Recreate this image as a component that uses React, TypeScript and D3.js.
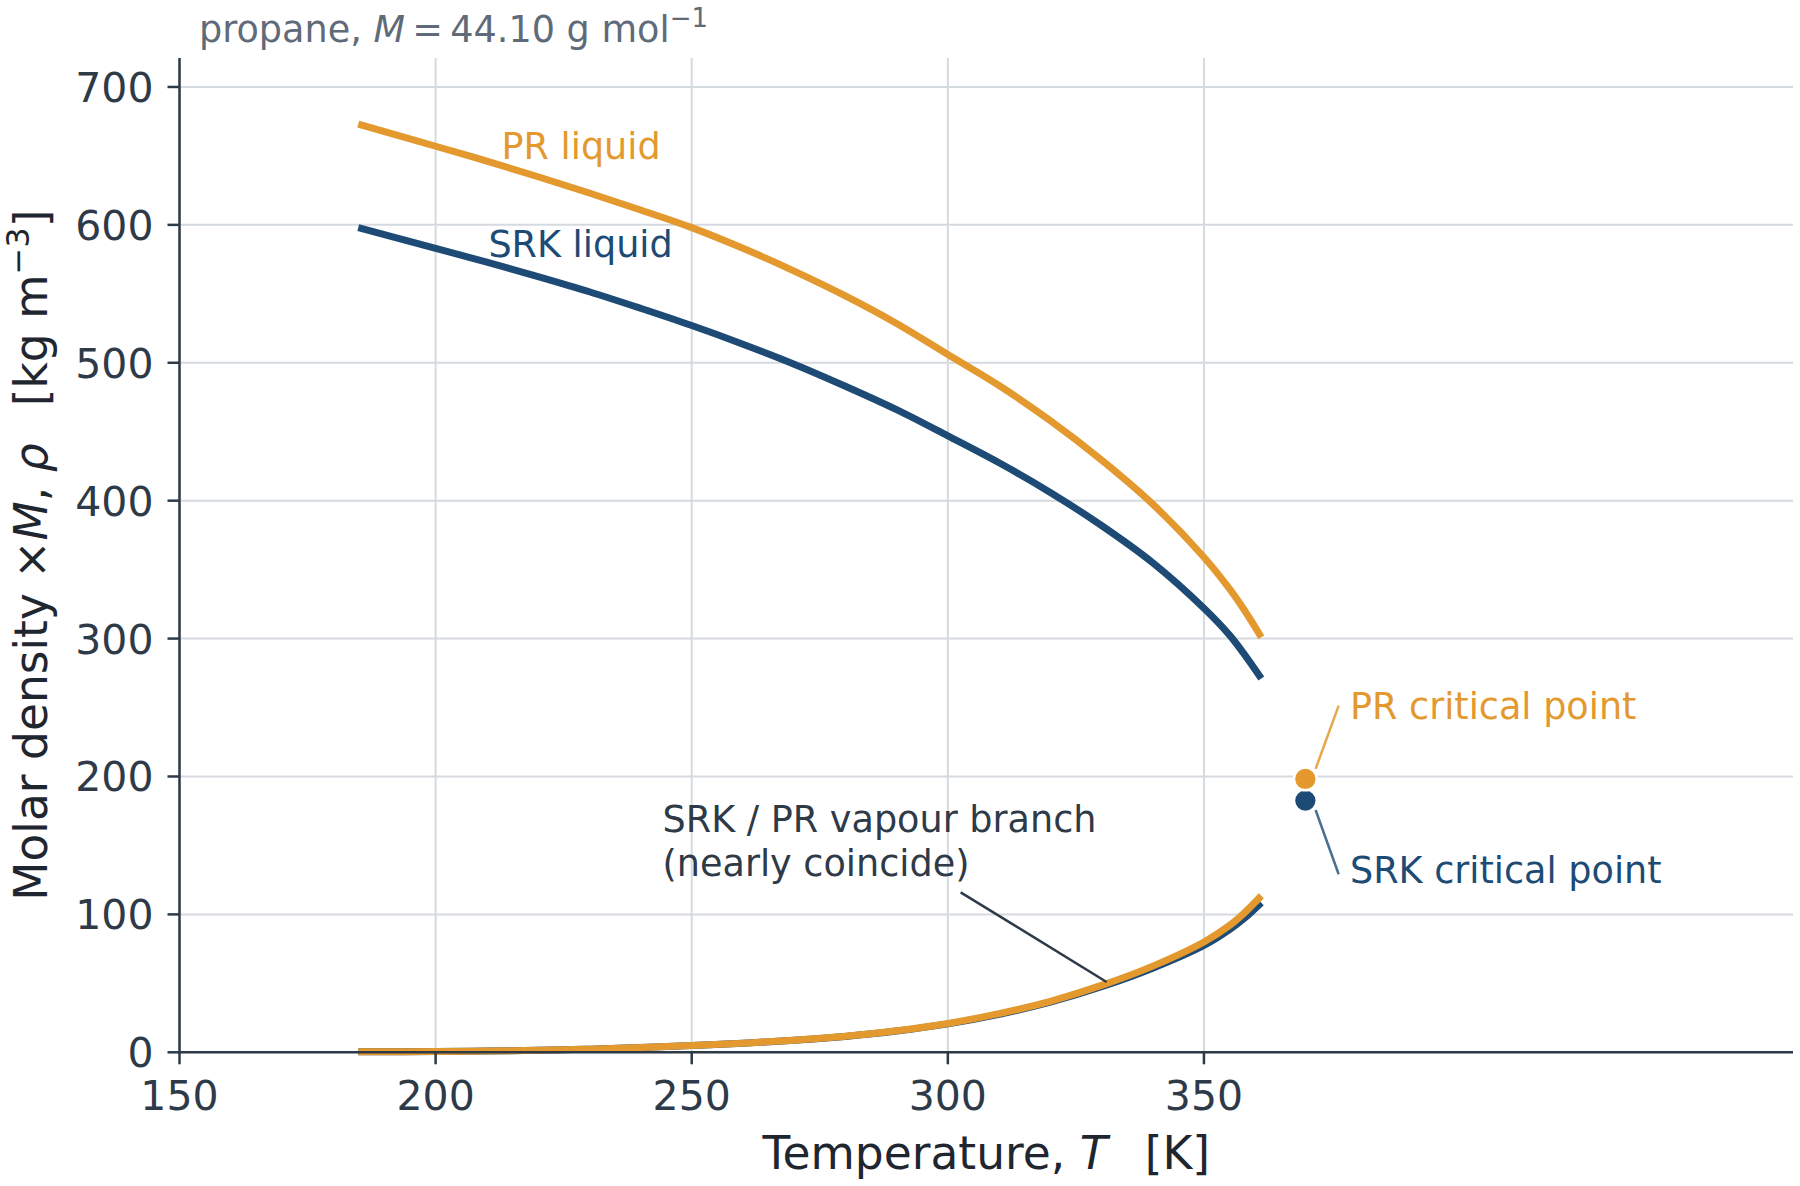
import React from "react";
import * as d3 from "d3";

// saturation temperatures [K]
const temps = [184.9, 200, 210, 220, 230, 240, 250, 260, 270, 280, 290, 300, 310, 320, 330, 340, 350, 355, 358, 361.2];

// densities (molar density x M) [kg m^-3]
const prLiquid = [673, 657, 646.2, 634.9, 623.1, 610.8, 598, 583, 566.5, 548.5, 528.5, 506, 483.5, 458, 429.5, 397.5, 359, 336, 320, 301];
const srkLiquid = [598, 583, 573, 562.5, 551.5, 539.5, 527, 513.5, 499, 483, 466, 447, 427.5, 406, 382, 355, 322, 302.5, 288, 271];
const prVapour = [0.4, 0.6, 1.0, 1.5, 2.3, 3.4, 4.9, 6.6, 8.8, 11.6, 15.6, 20.9, 28, 37, 48.5, 62.5, 80, 92, 101.5, 113.5];
const srkVapour = [0.4, 0.6, 1.0, 1.5, 2.3, 3.4, 4.9, 6.5, 8.7, 11.5, 15.4, 20.6, 27.5, 36.3, 47.5, 61, 77.5, 89, 97.5, 108.5];

// critical points [T, rho]
const prCritical = [369.8, 198.2];
const srkCritical = [369.8, 182.5];

const xTicks = [150, 200, 250, 300, 350];
const yTicks = [0, 100, 200, 300, 400, 500, 600, 700];

const ORANGE = "#E3992E";
const BLUE = "#1D4B75";
const INK = "#2E3A48";
const GRID = "#D5DADF";
const FONT = "'DejaVu Sans', sans-serif";

export default function App() {
  const width = 1800;
  const height = 1186;

  const x = d3.scaleLinear().domain([150, 465]).range([179.5, 1793]);
  const y = d3.scaleLinear().domain([0, 721]).range([1052.3, 58]);

  const line = (vals: number[]) =>
    d3
      .line<number>()
      .x((_, i) => x(temps[i]))
      .y((d) => y(d))
      .curve(d3.curveCatmullRom.alpha(0.5))(vals) as string;

  const [x0, x1] = x.range();
  const [y0, y1] = y.range();

  return (
    <svg
      width={width}
      height={height}
      style={{ position: "absolute", left: 0, top: 0, background: "#fff" }}
      fontFamily={FONT}
    >
      {/* grid */}
      {yTicks.map((t) => (
        <line key={"gy" + t} x1={x0} x2={x1} y1={y(t)} y2={y(t)} stroke={GRID} strokeWidth={2} />
      ))}
      {xTicks.map((t) => (
        <line key={"gx" + t} x1={x(t)} x2={x(t)} y1={y0} y2={y1} stroke={GRID} strokeWidth={2} />
      ))}

      {/* curves */}
      <path d={line(srkLiquid)} fill="none" stroke={BLUE} strokeWidth={7} />
      <path d={line(prLiquid)} fill="none" stroke={ORANGE} strokeWidth={7} />
      <path d={line(srkVapour)} fill="none" stroke={BLUE} strokeWidth={7} />
      <path d={line(prVapour)} fill="none" stroke={ORANGE} strokeWidth={7} />

      {/* critical points */}
      <circle cx={x(srkCritical[0])} cy={y(srkCritical[1])} r={11.4} fill={BLUE} stroke="#fff" strokeWidth={2.5} />
      <circle cx={x(prCritical[0])} cy={y(prCritical[1])} r={11.4} fill={ORANGE} stroke="#fff" strokeWidth={2.5} />

      {/* annotation links */}
      <line x1={x(371.8)} y1={y(205.5)} x2={x(376.3)} y2={y(251.4)} stroke={ORANGE} strokeOpacity={0.85} strokeWidth={2.5} />
      <line x1={x(371.8)} y1={y(175.7)} x2={x(376.3)} y2={y(129.1)} stroke={BLUE} strokeOpacity={0.8} strokeWidth={2.5} />
      <line x1={x(302.5)} y1={y(116)} x2={x(331)} y2={y(51)} stroke={INK} strokeWidth={2.5} />

      {/* labels */}
      <g fontSize={36.6}>
        <text x={x(228.4)} y={y(648)} textAnchor="middle" fill={ORANGE}>PR liquid</text>
        <text x={x(228.3)} y={y(577)} textAnchor="middle" fill={BLUE}>SRK liquid</text>
        <text x={x(378.5)} y={y(241.9)} fill={ORANGE}>PR critical point</text>
        <text x={x(378.5)} y={y(122.6)} fill={BLUE}>SRK critical point</text>
        <text x={x(244.3)} y={y(160)} fill={INK}>
          <tspan>SRK / PR vapour branch</tspan>
          <tspan x={x(244.3)} dy={44}>(nearly coincide)</tspan>
        </text>
      </g>

      {/* spines */}
      <line x1={x0} x2={x0} y1={y1} y2={y0 + 1} stroke={INK} strokeWidth={2.5} />
      <line x1={x0 - 1} x2={x1} y1={y0} y2={y0} stroke={INK} strokeWidth={2.5} />

      {/* ticks */}
      {xTicks.map((t) => (
        <g key={"tx" + t}>
          <line x1={x(t)} x2={x(t)} y1={y0} y2={y0 + 12} stroke={INK} strokeWidth={2.5} />
          <text x={x(t)} y={y0 + 57.5} textAnchor="middle" fontSize={41} fill={INK}>
            {t}
          </text>
        </g>
      ))}
      {yTicks.map((t) => (
        <g key={"ty" + t}>
          <line x1={x0 - 12} x2={x0} y1={y(t)} y2={y(t)} stroke={INK} strokeWidth={2.5} />
          <text x={x0 - 26} y={y(t) + 15} textAnchor="end" fontSize={41} fill={INK}>
            {t}
          </text>
        </g>
      ))}

      {/* axis labels */}
      <text x={(x0 + x1) / 2} y={1168.5} textAnchor="middle" fontSize={45.5} fill="#1F2630" xmlSpace="preserve">
        Temperature, <tspan fontStyle="italic">T</tspan>{" \u2002"}[K]
      </text>
      <text
        transform={`translate(47, ${(y0 + y1) / 2}) rotate(-90)`}
        textAnchor="middle"
        fontSize={45.5}
        fill="#1F2630"
        xmlSpace="preserve"
      >
        Molar density ×<tspan fontStyle="italic">M</tspan>, <tspan fontStyle="italic">ρ</tspan>{" \u2002"}[kg m
        <tspan fontSize={32} dy={-18}>−3</tspan>
        <tspan dy={18}>]</tspan>
      </text>

      {/* title */}
      <text x={x0 + 19.5} y={41.7} fontSize={36.6} fill="#5F6B78">
        propane, <tspan fontStyle="italic">M</tspan>{"\u2009=\u2009"}44.10 g mol
        <tspan fontSize={26} dy={-15}>−1</tspan>
      </text>
    </svg>
  );
}
